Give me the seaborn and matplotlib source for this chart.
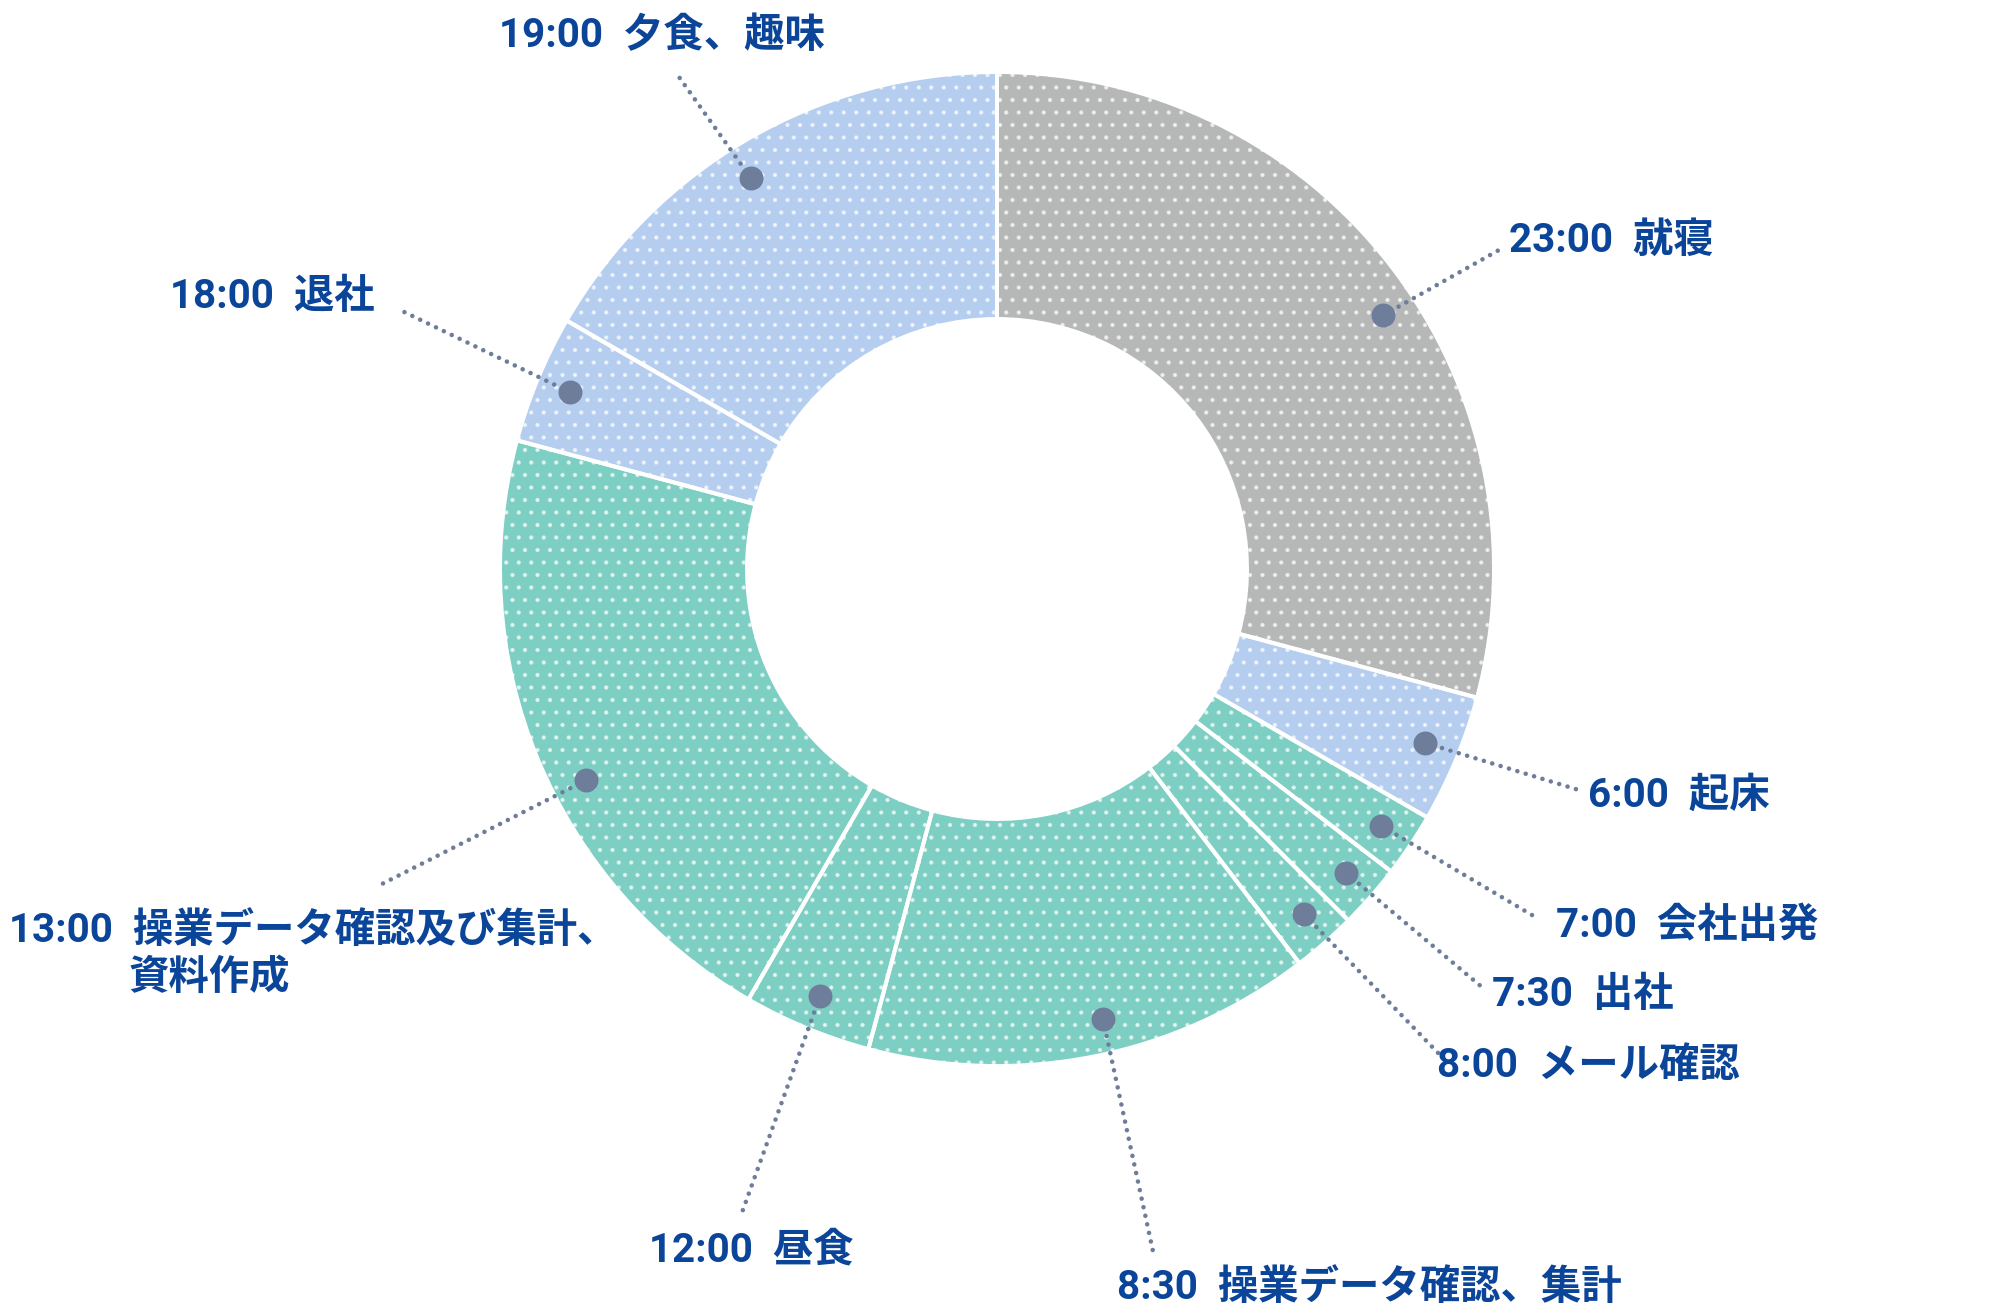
import matplotlib
matplotlib.use("Agg")
import matplotlib.pyplot as plt
import numpy as np
import seaborn as sns

# Daily schedule, clockwise from 23:00 (hours spent on each activity)
times = ["23:00", "6:00", "7:00", "7:30", "8:00", "8:30", "12:00", "13:00", "18:00", "19:00"]
activities = ["就寝", "起床", "会社出発", "出社", "メール確認", "操業データ確認、集計",
              "昼食", "操業データ確認及び集計、", "退社", "夕食、趣味"]
hours = [7, 1, 0.5, 0.5, 0.5, 3.5, 1, 5, 1, 4]
kinds = ["sleep", "private", "work", "work", "work", "work", "work", "work", "private", "private"]
second_line = {"13:00": "資料作成"}

# Layout (pixels, origin top-left)
W, H = 2000, 1316
DPI = 150
CX, CY, R = 997, 569, 497
label_pos = [(1509, 240), (1588, 795), (1556, 926), (1492, 995), (1437, 1066),
             (1117, 1288), (649, 1250), (9, 931), (170, 297), (499, 36)]
line_end = [(1499, 250), (1582, 791), (1537, 918), (1483, 988), (1441, 1056),
            (1154, 1256), (740, 1218), (380, 885), (398, 309), (679, 77)]
pin_shift = [-4.2, 0.4, 0, 0.2, 0.4, 2.0, 0, 4.7, 0, 2.2]  # degrees off wedge middle
second_line_pos = (129, 978)

palette = {"sleep": "#b6b7b7", "private": "#b5cdef", "work": "#7dcfc3"}
text_color = "#0b4599"
pin_color = "#6e7e9a"
FS = 19.4

sns.set_theme(style="white")
plt.rcParams["font.family"] = ["Roboto", "Noto Sans CJK JP", "DejaVu Sans"]
plt.rcParams["hatch.linewidth"] = 0.9

fig = plt.figure(figsize=(W / DPI, H / DPI), dpi=DPI)
ax = fig.add_axes([0, 0, 1, 1])

center = (CX, H - CY)
colors = [palette[k] for k in kinds]

# Dotted fill
wedges, _ = ax.pie(hours, colors=colors, startangle=90, counterclock=False,
                   radius=R, center=center,
                   wedgeprops=dict(width=R * 0.497, linewidth=0,
                                   edgecolor=(1, 1, 1, 0.6), hatch=".."))
# White separators
ax.pie(hours, colors=["none"] * len(hours), startangle=90, counterclock=False,
       radius=R, center=center,
       wedgeprops=dict(width=R * 0.497, linewidth=1.9, edgecolor="white", fill=False))

for i, w in enumerate(wedges):
    mid = np.deg2rad((w.theta1 + w.theta2) / 2 + pin_shift[i])
    px = center[0] + 0.93 * R * np.cos(mid)
    py = center[1] + 0.93 * R * np.sin(mid)
    ex, ey = line_end[i]
    ax.plot([px, ex], [py, H - ey], color=pin_color, linewidth=2.2,
            linestyle=(0, (0.01, 1.9)), dash_capstyle="round", zorder=3)
    ax.plot([px], [py], marker="o", markersize=10.5, color=pin_color, zorder=4)
    lx, ly = label_pos[i]
    ax.text(lx, H - ly, f"{times[i]}  {activities[i]}", ha="left", va="center",
            fontsize=FS, fontweight="bold", color=text_color)
    if times[i] in second_line:
        sx, sy = second_line_pos
        ax.text(sx, H - sy, second_line[times[i]], ha="left", va="center",
                fontsize=FS, fontweight="bold", color=text_color)

ax.set_aspect("equal")
ax.set_xlim(0, W)
ax.set_ylim(0, H)
ax.axis("off")

fig.savefig("out.png", dpi=DPI, facecolor="white")
